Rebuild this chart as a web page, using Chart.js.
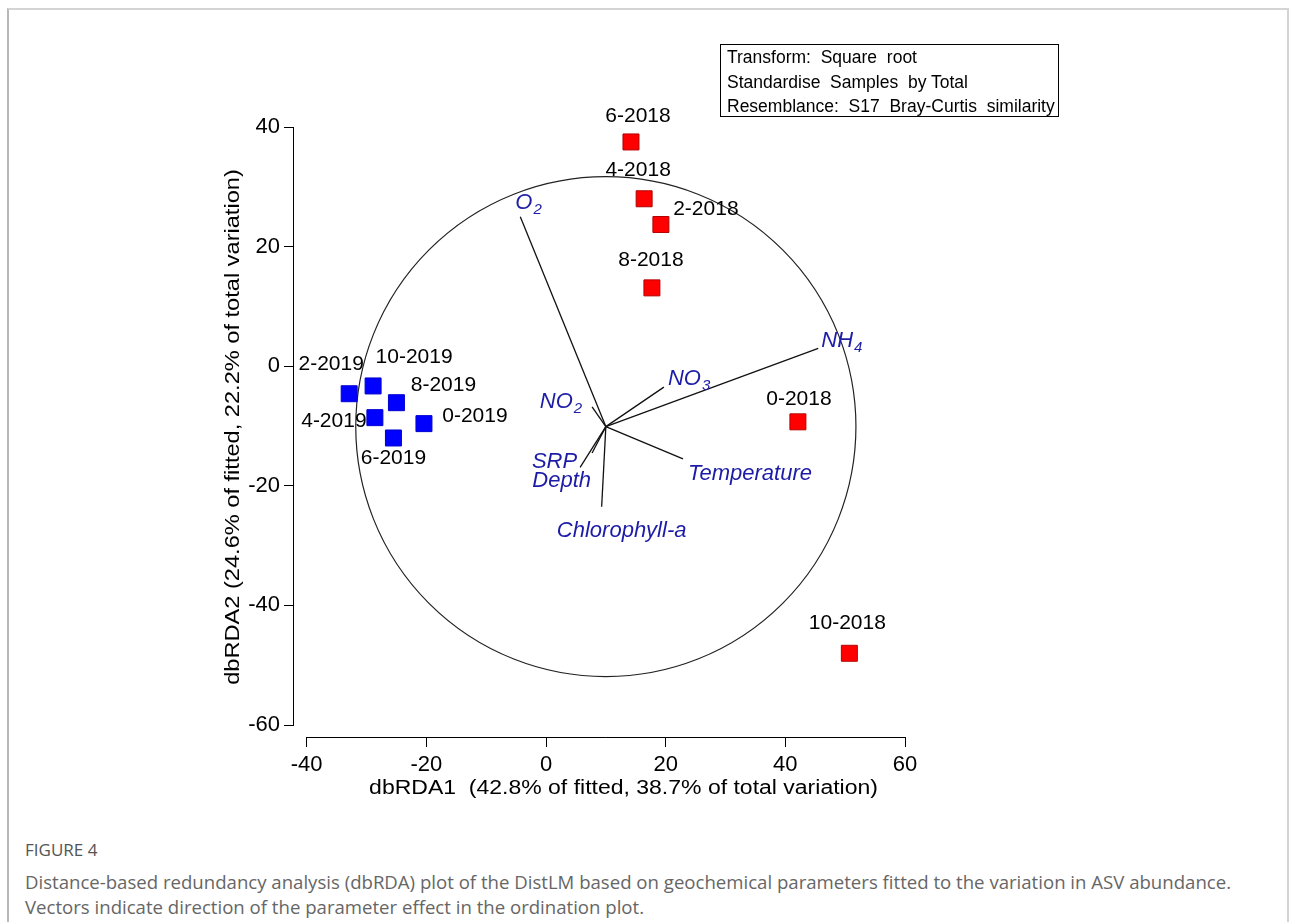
<!DOCTYPE html>
<html>
<head>
<meta charset="utf-8">
<script src="https://cdn.jsdelivr.net/npm/chart.js@4.4.1/dist/chart.umd.min.js"></script>
<style>
  html, body { margin: 0; padding: 0; background: #fff; }
  body { width: 1293px; height: 922px; position: relative; overflow: hidden; }
  .frame { position: absolute; left: 7px; top: 8px; width: 1278px; height: 1000px;
    border-top: 2px solid #d4d4d4; border-left: 2px solid #b8b8b8; border-right: 2px solid #d4d4d4; }
  #chart { position: absolute; left: 0; top: 0; }
  .info { position: absolute; left: 720px; top: 44px; width: 339px; height: 73px; box-sizing: border-box;
    border: 1px solid #000; padding-left: 6px; font: 17.5px 'Liberation Sans', Arial, sans-serif;
    line-height: 24.5px; white-space: pre; color: #000; }
  .figlabel { position: absolute; left: 25px; top: 840px; font: 17px 'Open Sans', 'Noto Sans', sans-serif;
    line-height: 20px; color: #555; }
  .caption { position: absolute; left: 25px; top: 869px; font: 18.6px 'Open Sans', 'Noto Sans', sans-serif;
    line-height: 25px; color: #666; white-space: nowrap; }
</style>
</head>
<body>
<div class="frame"></div>
<canvas id="chart" width="1293" height="830"></canvas>
<div class="info">Transform:  Square  root
Standardise  Samples  by Total
Resemblance:  S17  Bray-Curtis  similarity</div>
<div class="figlabel">FIGURE 4</div>
<div class="caption">Distance-based redundancy analysis (dbRDA) plot of the DistLM based on geochemical parameters fitted to the variation in ASV abundance.<br>Vectors indicate direction of the parameter effect in the ordination plot.</div>
<script>
// sample scores
const samples2018 = ['0-2018', '2-2018', '4-2018', '6-2018', '8-2018', '10-2018'];
const x2018 = [42.1, 19.2, 16.4, 14.2, 17.7, 50.7];
const y2018 = [-9.3, 23.7, 28.0, 37.5, 13.1, -48.0];

const samples2019 = ['0-2019', '2-2019', '4-2019', '6-2019', '8-2019', '10-2019'];
const x2019 = [-20.4, -32.9, -28.6, -25.5, -25.0, -28.9];
const y2019 = [-9.6, -4.6, -8.6, -12.0, -6.1, -3.3];

// parameter vectors (end points), all start at the circle centre
const vectorNames = ['O2', 'NH4', 'NO3', 'NO2', 'Temperature', 'Chlorophyll-a', 'SRP', 'Depth'];
const vectorX = [-4.3, 45.5, 19.7, 7.7, 22.9, 9.3, 5.7, 7.7];
const vectorY = [25.0, 3.0, -3.5, -6.8, -15.5, -23.5, -16.9, -14.5];
const vectorOrigin = [10.0, -10.1];
const circleRadius = 41.8;

const xTicks = [-40, -20, 0, 20, 40, 60];
const yTicks = [-60, -40, -20, 0, 20, 40];

const xTitle = 'dbRDA1  (42.8% of fitted, 38.7% of total variation)';
const yTitle = 'dbRDA2 (24.6% of fitted, 22.2% of total variation)';

// label placement (pixels relative to the mark)
const labelOffsets2018 = [[1, -23], [45, -15], [-6, -29], [7, -26], [-1, -28], [-2, -30]];
const labelOffsets2019 = [[51, -7], [-18, -30], [-41, 4], [0, 20], [47, -17], [41, -29]];
const vectorLabelPos = [[-5, -8, 'left'], [3, -1, 'left'], [4, -2, 'left'], [-10, 1, 'right'],
  [5, 21, 'left'], [20, 30, 'center'], [-3, 1, 'right'], [-1, 34, 'right']];

const FONT = "'Liberation Sans', Arial, sans-serif";
Chart.defaults.font.family = FONT;
Chart.defaults.color = '#000';

const H = 830;
const axisLeft = 294, axisBottom = 737, axisRight = 905, axisTop = 127;
const padLeft = 190;

const circlePlugin = {
  id: 'circle',
  beforeDatasetsDraw(chart) {
    const { ctx, scales: { x, y } } = chart;
    const cx = x.getPixelForValue(vectorOrigin[0]);
    const cy = y.getPixelForValue(vectorOrigin[1]);
    const rx = x.getPixelForValue(vectorOrigin[0] + circleRadius) - cx;
    const ry = cy - y.getPixelForValue(vectorOrigin[1] + circleRadius);
    ctx.save();
    ctx.beginPath();
    ctx.ellipse(cx, cy, rx, ry, 0, 0, Math.PI * 2);
    ctx.strokeStyle = '#222';
    ctx.lineWidth = 1.2;
    ctx.stroke();
    ctx.restore();
  }
};

// axis lines stop at the end ticks, and the two axes do not meet
const axisLines = {
  id: 'axisLines',
  afterDraw(chart) {
    const { ctx, chartArea, scales: { x, y } } = chart;
    ctx.save();
    ctx.strokeStyle = '#000';
    ctx.lineWidth = 1;
    ctx.beginPath();
    const lx = Math.round(chartArea.left) - 0.5;
    ctx.moveTo(lx, y.getPixelForValue(yTicks[yTicks.length - 1]));
    ctx.lineTo(lx, y.getPixelForValue(yTicks[0]));
    const by = Math.round(chartArea.bottom) + 0.5;
    ctx.moveTo(x.getPixelForValue(xTicks[0]), by);
    ctx.lineTo(x.getPixelForValue(xTicks[xTicks.length - 1]), by);
    ctx.stroke();

    // axis titles (slightly wide lettering like the original export)
    ctx.fillStyle = '#000';
    ctx.font = '20px ' + FONT;
    ctx.textAlign = 'center';
    ctx.textBaseline = 'alphabetic';
    ctx.save();
    ctx.translate((chartArea.left + chartArea.right) / 2 + 24, chartArea.bottom + 57);
    ctx.scale(1.15, 1);
    ctx.fillText(xTitle, 0, 0);
    ctx.restore();
    ctx.save();
    ctx.translate(chartArea.left - 55, (chartArea.top + chartArea.bottom) / 2 - 5);
    ctx.rotate(-Math.PI / 2);
    ctx.scale(1.18, 1);
    ctx.fillText(yTitle, 0, 0);
    ctx.restore();
    ctx.restore();
  }
};

function drawSubLabel(ctx, name, px, py, align) {
  const m = name.match(/^([A-Z]+)(\d)$/);
  const main = m ? m[1] : name;
  const sub = m ? m[2] : '';
  ctx.font = 'italic 22px ' + FONT;
  const wMain = ctx.measureText(main).width;
  ctx.font = 'italic 15px ' + FONT;
  const wSub = sub ? ctx.measureText(sub).width + 1 : 0;
  const total = wMain + wSub;
  let sx = px;
  if (align === 'right') sx = px - total;
  if (align === 'center') sx = px - total / 2;
  ctx.textAlign = 'left';
  ctx.textBaseline = 'alphabetic';
  ctx.font = 'italic 22px ' + FONT;
  ctx.fillText(main, sx, py);
  if (sub) {
    ctx.font = 'italic 15px ' + FONT;
    ctx.fillText(sub, sx + wMain + 1, py + 5);
  }
}

const labelPlugin = {
  id: 'labels',
  afterDatasetsDraw(chart) {
    const { ctx } = chart;
    ctx.save();
    // sample labels
    ctx.fillStyle = '#000';
    ctx.font = '21px ' + FONT;
    ctx.textAlign = 'center';
    ctx.textBaseline = 'middle';
    const groups = [[0, samples2018, labelOffsets2018], [1, samples2019, labelOffsets2019]];
    groups.forEach(([di, names, offs]) => {
      chart.getDatasetMeta(di).data.forEach((pt, i) => {
        ctx.fillText(names[i], pt.x + offs[i][0], pt.y + offs[i][1]);
      });
    });
    // vector labels
    ctx.fillStyle = '#1c1ca6';
    vectorNames.forEach((name, i) => {
      const end = chart.getDatasetMeta(i + 2).data[1];
      const [dx, dy, align] = vectorLabelPos[i];
      drawSubLabel(ctx, name, end.x + dx, end.y + dy, align);
    });
    ctx.restore();
  }
};

const datasets = [
  {
    label: '2018',
    data: x2018.map((v, i) => ({ x: v, y: y2018[i] })),
    pointStyle: 'rect',
    pointRadius: 11.3,
    backgroundColor: '#ff0000',
    borderColor: '#b30000',
    borderWidth: 1,
    clip: false
  },
  {
    label: '2019',
    data: x2019.map((v, i) => ({ x: v, y: y2019[i] })),
    pointStyle: 'rect',
    pointRadius: 11.3,
    backgroundColor: '#0000ff',
    borderColor: '#0000d0',
    borderWidth: 1,
    clip: false
  }
];
vectorNames.forEach((name, i) => {
  datasets.push({
    type: 'line',
    label: name,
    data: [{ x: vectorOrigin[0], y: vectorOrigin[1] }, { x: vectorX[i], y: vectorY[i] }],
    borderColor: '#111',
    borderWidth: 1.3,
    pointRadius: 0,
    fill: false,
    clip: false
  });
});

new Chart(document.getElementById('chart'), {
  type: 'scatter',
  data: { datasets },
  options: {
    responsive: false,
    animation: false,
    layout: { padding: { left: padLeft, top: axisTop, right: 1293 - axisRight, bottom: 0 } },
    plugins: { legend: { display: false }, tooltip: { enabled: false } },
    scales: {
      x: {
        type: 'linear',
        min: -42.12,
        max: 60,
        afterBuildTicks: s => { s.ticks = xTicks.map(v => ({ value: v })); },
        afterFit: s => { s.height = H - axisBottom; },
        grid: { drawOnChartArea: false, drawTicks: true, tickLength: 10, color: '#000', lineWidth: 1 },
        border: { display: false },
        ticks: { font: { size: 22 }, color: '#000', padding: 5, maxRotation: 0, autoSkip: false }
      },
      y: {
        type: 'linear',
        min: -62,
        max: 40,
        afterBuildTicks: s => { s.ticks = yTicks.map(v => ({ value: v })); },
        afterFit: s => { s.width = axisLeft - padLeft; },
        grid: { drawOnChartArea: false, drawTicks: true, tickLength: 10, color: '#000', lineWidth: 1 },
        border: { display: false },
        ticks: { font: { size: 22 }, color: '#000', padding: 4, autoSkip: false }
      }
    }
  },
  plugins: [circlePlugin, axisLines, labelPlugin]
});
</script>
</body>
</html>
